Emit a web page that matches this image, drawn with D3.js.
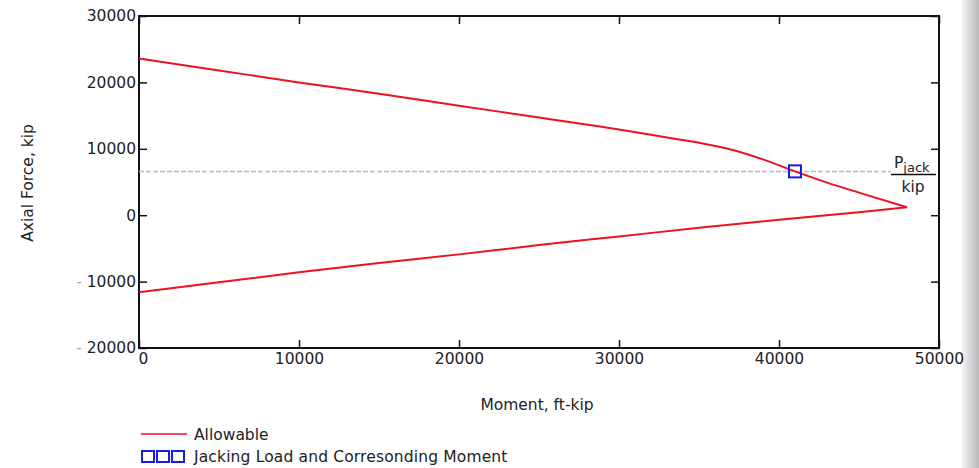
<!DOCTYPE html>
<html>
<head>
<meta charset="utf-8">
<script src="https://cdn.jsdelivr.net/npm/d3@7"></script>
<style>
	body { margin: 0; background: #fff; }
	svg { display: block; font-family: "DejaVu Sans", sans-serif; }
</style>
</head>
<body>
<svg width="979" height="468"></svg>
<script>
// upper branch of the allowable interaction curve (moment ft-kip, axial kip)
const upperMoment = [0, 5000, 10000, 15000, 20000, 25000, 30000, 33000, 35000, 37000, 39000, 41000, 43000, 45000, 48000];
const upperAxial  = [23600, 21800, 20000, 18300, 16500, 14700, 12900, 11700, 10900, 9900, 8400, 6600, 4900, 3400, 1200];
// lower branch
const lowerMoment = [0, 5000, 10000, 15000, 20000, 25000, 30000, 35000, 40000, 45000, 48000];
const lowerAxial  = [-11600, -10100, -8600, -7200, -5900, -4500, -3200, -1900, -700, 450, 1200];
// jacking load point
const jackMoment = [41000];
const jackAxial = [6600];

const xTicks = [0, 10000, 20000, 30000, 40000, 50000];
const yTicks = [-20000, -10000, 0, 10000, 20000, 30000];

const FONT = "15.5px";

document.addEventListener("DOMContentLoaded", function() {
	renderChart();
});

function renderChart() {
	const svg = d3.select("svg");

	// grey strip at the right edge of the screenshot
	const grad = svg.append("defs").append("linearGradient")
					.attr("id", "edge").attr("x1", 0).attr("x2", 1);
	grad.append("stop").attr("offset", 0).attr("stop-color", "#f4f4f4");
	grad.append("stop").attr("offset", 1).attr("stop-color", "#b8b8b8");
	svg.append("rect").attr("x", 962).attr("y", 0).attr("width", 17).attr("height", 468)
	   .attr("fill", "url(#edge)");

	const left = 139, right = 939, top = 16, bottom = 348;

	const xScale = d3.scaleLinear().domain([0, 50000]).range([left, right]);
	const yScale = d3.scaleLinear().domain([-20000, 30000]).range([bottom, top]);

	// axes, ticks inward
	const yg = svg.append("g")
				  .attr("transform", `translate(${left}, 0)`)
				  .call(d3.axisLeft(yScale).tickValues(yTicks).tickSizeInner(-8).tickSizeOuter(0).tickPadding(3).tickFormat(d => d));
	yg.selectAll(".tick text").each(function(d) {
		if (d < 0) {
			const t = d3.select(this).text("");
			t.append("tspan").attr("fill", "#aaa").text("- ");
			t.append("tspan").text(Math.abs(d));
		}
	});

	const xg = svg.append("g")
				  .attr("transform", `translate(0, ${bottom})`)
				  .call(d3.axisBottom(xScale).tickValues(xTicks).tickSizeInner(-8).tickSizeOuter(0).tickPadding(3).tickFormat(d => d));
	xg.selectAll(".tick text").attr("dy", "0.85em");
	xg.selectAll(".tick text").filter(d => d === 0).attr("dx", 4);

	svg.append("g")
	   .attr("transform", `translate(0, ${top})`)
	   .call(d3.axisTop(xScale).tickValues(xTicks).tickSizeInner(-8).tickSizeOuter(0).tickFormat(""));
	svg.append("g")
	   .attr("transform", `translate(${right}, 0)`)
	   .call(d3.axisRight(yScale).tickValues(yTicks).tickSizeInner(-8).tickSizeOuter(0).tickFormat(""));

	svg.selectAll(".domain").remove();
	svg.selectAll(".tick line").attr("stroke", "#111").attr("stroke-width", 1.5);
	svg.selectAll(".tick text").attr("font-size", FONT).attr("font-family", "DejaVu Sans").attr("fill", "#222");

	svg.append("rect")
	   .attr("x", left).attr("y", top)
	   .attr("width", right - left).attr("height", bottom - top)
	   .attr("fill", "none").attr("stroke", "#111").attr("stroke-width", 2);

	// jacking load level
	svg.append("line")
	   .attr("x1", left).attr("x2", xScale(47000))
	   .attr("y1", yScale(jackAxial[0])).attr("y2", yScale(jackAxial[0]))
	   .attr("stroke", "#c6b4be").attr("stroke-width", 1.5)
	   .attr("stroke-dasharray", "5,2");

	const line = d3.line().curve(d3.curveMonotoneX).x(d => xScale(d[0])).y(d => yScale(d[1]));
	const upper = upperMoment.map((m, i) => [m, upperAxial[i]]);
	const lower = lowerMoment.map((m, i) => [m, lowerAxial[i]]);

	svg.append("path").datum(upper).attr("d", line)
	   .attr("fill", "none").attr("stroke", "#ee1122").attr("stroke-width", 2);
	svg.append("path").datum(lower).attr("d", line)
	   .attr("fill", "none").attr("stroke", "#ee1122").attr("stroke-width", 2);

	svg.selectAll(".jack")
	   .data(jackMoment.map((m, i) => [m, jackAxial[i]]))
	   .enter()
	   .append("rect")
	   .attr("class", "jack")
	   .attr("x", d => xScale(d[0]) - 6)
	   .attr("y", d => yScale(d[1]) - 6)
	   .attr("width", 12).attr("height", 12)
	   .attr("fill", "none").attr("stroke", "#1a1ae0").attr("stroke-width", 2);

	const label = (x, y) => svg.append("text").attr("x", x).attr("y", y)
							   .attr("font-size", FONT).attr("fill", "#222");

	// P_jack / kip label
	const ly = yScale(jackAxial[0]) + 3;
	const p = label(894, ly - 6);
	p.append("tspan").text("P");
	p.append("tspan").attr("dy", 4).attr("font-size", "13px").text("jack");
	svg.append("line").attr("x1", 891).attr("x2", 936).attr("y1", ly).attr("y2", ly)
	   .attr("stroke", "#111").attr("stroke-width", 1.5);
	label(913, ly + 18).attr("text-anchor", "middle").text("kip");

	// axis titles
	label(0, 0).attr("transform", "translate(33, 183) rotate(-90)")
	   .attr("text-anchor", "middle").text("Axial Force, kip");
	label(537, 410).attr("text-anchor", "middle").text("Moment, ft-kip");

	// legend
	svg.append("line").attr("x1", 141).attr("x2", 187).attr("y1", 434).attr("y2", 434)
	   .attr("stroke", "#ee1122").attr("stroke-width", 1.5);
	label(194, 440).text("Allowable");
	[0, 1, 2].forEach(i => {
		svg.append("rect").attr("x", 142 + i * 15).attr("y", 451).attr("width", 12).attr("height", 11)
		   .attr("fill", "none").attr("stroke", "#1a1ae0").attr("stroke-width", 2);
	});
	label(194, 462).attr("letter-spacing", "0.15px").text("Jacking Load and Corresonding Moment");
}
</script>
</body>
</html>
